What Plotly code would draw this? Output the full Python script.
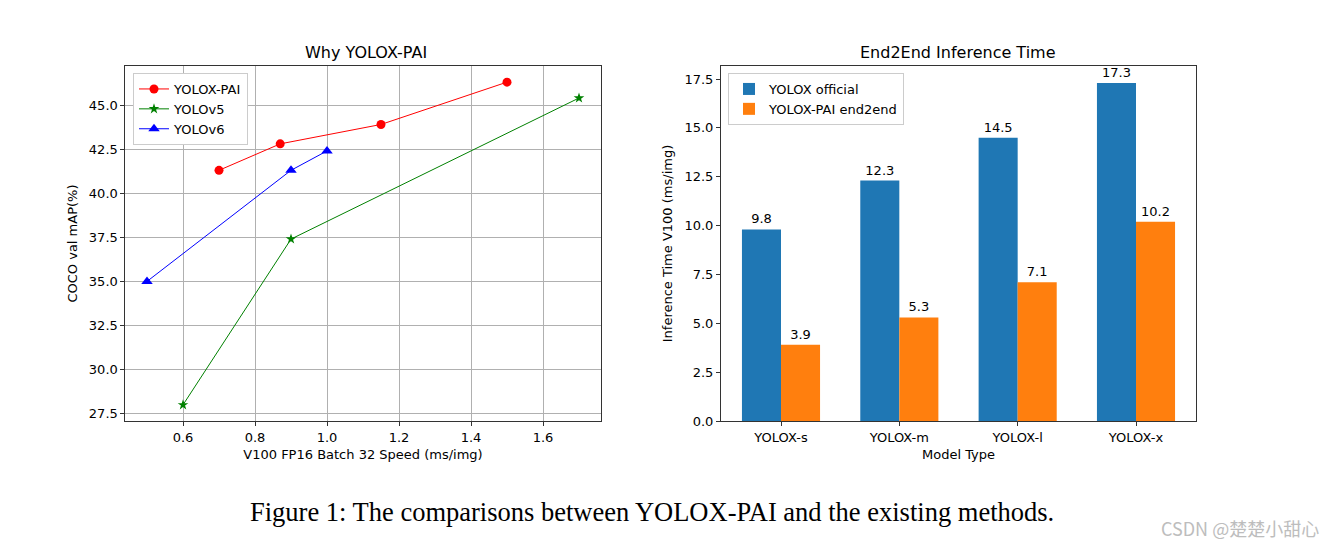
import plotly.graph_objects as go

# ---------------- data ----------------
pai_speed = [0.7, 0.87, 1.15, 1.5]
pai_map = [41.3, 42.8, 43.9, 46.3]
v5_speed = [0.6, 0.9, 1.7]
v5_map = [28.0, 37.4, 45.4]
v6_speed = [0.5, 0.9, 1.0]
v6_map = [35.0, 41.3, 42.4]

models = ["YOLOX-s", "YOLOX-m", "YOLOX-l", "YOLOX-x"]
official_time = [9.8, 12.3, 14.5, 17.3]
end2end_time = [3.9, 5.3, 7.1, 10.2]

# page body has an 8px margin; figure sized to fit inside the window
OFF = 8
FW, FH = 1336 - 2 * OFF, 549 - 2 * OFF


def px(s):
    return (s - OFF) / FW


def py(s):
    return 1 - (s - OFF) / FH


FONT = "DejaVu Sans"
AX = "#333333"

fig = go.Figure()

# -------- left scatter/line plot --------
fig.add_trace(go.Scatter(x=pai_speed, y=pai_map, mode="lines+markers", name="YOLOX-PAI",
                         line=dict(color="#ff0000", width=1),
                         marker=dict(symbol="circle", size=9, color="#ff0000"),
                         xaxis="x", yaxis="y", legend="legend"))
fig.add_trace(go.Scatter(x=v5_speed, y=v5_map, mode="lines+markers", name="YOLOv5",
                         line=dict(color="#008000", width=1),
                         marker=dict(symbol="star", size=8, color="#008000"),
                         xaxis="x", yaxis="y", legend="legend"))
fig.add_trace(go.Scatter(x=v6_speed, y=v6_map, mode="lines+markers", name="YOLOv6",
                         line=dict(color="#0000ff", width=1),
                         marker=dict(symbol="triangle-up", size=10, color="#0000ff"),
                         xaxis="x", yaxis="y", legend="legend"))

# -------- right bar plot --------
xpos = list(range(len(models)))
bw = 0.33
fig.add_trace(go.Bar(x=xpos, y=official_time, name="YOLOX official", width=bw, offset=-bw,
                     marker=dict(color="#1f77b4", line=dict(width=0)),
                     text=[f"{v:.1f}" for v in official_time], textposition="outside",
                     textfont=dict(family=FONT, size=13, color="black"), cliponaxis=False,
                     xaxis="x2", yaxis="y2", legend="legend2"))
fig.add_trace(go.Bar(x=xpos, y=end2end_time, name="YOLOX-PAI end2end", width=bw, offset=0,
                     marker=dict(color="#ff7f0e", line=dict(width=0)),
                     text=[f"{v:.1f}" for v in end2end_time], textposition="outside",
                     textfont=dict(family=FONT, size=13, color="black"), cliponaxis=False,
                     xaxis="x2", yaxis="y2", legend="legend2"))

ydom = [py(421), py(66)]
axcommon = dict(showline=True, linecolor=AX, linewidth=1, mirror=True, ticks="outside",
                ticklen=4, tickcolor=AX, tickwidth=1, zeroline=False, automargin=False,
                tickfont=dict(family=FONT, size=13, color="black"))

fig.update_layout(
    width=FW, height=FH, template="none",
    paper_bgcolor="white", plot_bgcolor="white",
    margin=dict(l=0, r=0, t=0, b=0),
    font=dict(family=FONT, size=13, color="black"),
    barmode="overlay",
    xaxis=dict(domain=[px(125.4), px(600.6)], range=[0.44, 1.76], tickvals=[0.6, 0.8, 1.0, 1.2, 1.4, 1.6],
               tickformat=".1f", showgrid=True, gridcolor="#b0b0b0", gridwidth=0.8,
               title=dict(text="V100 FP16 Batch 32 Speed (ms/img)", standoff=6,
                          font=dict(family=FONT, size=13)), **axcommon),
    yaxis=dict(domain=ydom, range=[27.085, 47.215],
               tickvals=[27.5, 30.0, 32.5, 35.0, 37.5, 40.0, 42.5, 45.0], tickformat=".1f",
               showgrid=True, gridcolor="#b0b0b0", gridwidth=0.8,
               title=dict(text="COCO val mAP(%)", standoff=8, font=dict(family=FONT, size=13)),
               **axcommon),
    xaxis2=dict(domain=[px(721), px(1196)], range=[-0.507, 3.507], tickvals=xpos, ticktext=models,
                showgrid=False, anchor="y2",
                title=dict(text="Model Type", standoff=6, font=dict(family=FONT, size=13)),
                **axcommon),
    yaxis2=dict(domain=ydom, range=[0, 18.165], tickvals=[0, 2.5, 5, 7.5, 10, 12.5, 15, 17.5],
                tickformat=".1f", showgrid=False, anchor="x2",
                title=dict(text="Inference Time V100 (ms/img)", standoff=8,
                           font=dict(family=FONT, size=13)), **axcommon),
    legend=dict(x=px(133), y=py(73), xanchor="left", yanchor="top",
                bgcolor="white", bordercolor="#cccccc", borderwidth=1,
                font=dict(family=FONT, size=13), tracegroupgap=0, itemwidth=30),
    legend2=dict(x=px(728), y=py(73), xanchor="left", yanchor="top",
                 bgcolor="white", bordercolor="#cccccc", borderwidth=1,
                 font=dict(family=FONT, size=13), tracegroupgap=0, itemwidth=30),
    showlegend=True,
    annotations=[
        dict(text="Why YOLOX-PAI", x=px(366), y=py(53), xref="paper", yref="paper",
             showarrow=False, font=dict(family=FONT, size=16), xanchor="center", yanchor="middle"),
        dict(text="End2End Inference Time", x=px(958), y=py(53), xref="paper", yref="paper",
             showarrow=False, font=dict(family=FONT, size=16), xanchor="center", yanchor="middle"),
        dict(text="Figure 1: The comparisons between YOLOX-PAI and the existing methods.",
             x=px(652), y=py(512), xref="paper", yref="paper", showarrow=False,
             font=dict(family="Liberation Serif", size=26.5, color="black"),
             xanchor="center", yanchor="middle"),
        dict(text="CSDN @楚楚小甜心", x=px(1321), y=py(528), xref="paper", yref="paper",
             showarrow=False, font=dict(family="Noto Sans CJK SC", size=18, color="#bdbdbd"),
             xanchor="right", yanchor="middle"),
    ],
)

fig.write_html("out.html")
